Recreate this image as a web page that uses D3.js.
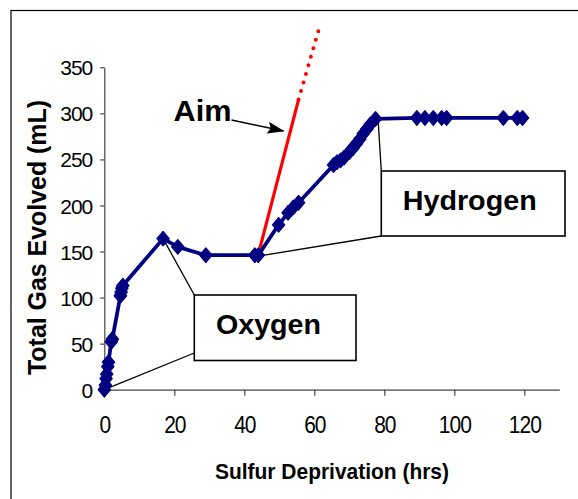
<!DOCTYPE html>
<html>
<head>
<meta charset="utf-8">
<script src="https://cdn.jsdelivr.net/npm/d3@7"></script>
<style>
  html, body { margin: 0; padding: 0; background: #fff; }
  svg { display: block; }
  text { font-family: "Liberation Sans", Arial, sans-serif; }
</style>
</head>
<body>
<svg id="chart" width="578" height="499"></svg>
<script>
// ---- data ----
const hours = [0, 0.3, 0.5, 0.7, 1, 1.2, 2, 2.3, 4.6, 4.8, 5, 5.3, 16.8, 21, 29, 43, 44,
               49.8, 52.5, 54, 55.5, 65.5, 66.5, 67.5, 68.5, 70, 71, 72, 73, 74, 75, 76, 77.5,
               89.3, 91.6, 94, 96.4, 97.8, 114, 118, 119.5];
const gasML = [0, 5, 12, 17, 25, 30, 52, 55, 102, 106, 110, 113, 164, 155, 146, 146, 146,
               179, 192, 198, 203, 244, 247, 249, 252, 258, 262, 267, 272, 278, 283, 288, 294,
               295, 295, 295, 295, 295, 295, 295, 295];
const aimHours = [44, 55.5];
const aimML = [147, 315];
const aimExtHours = [55.5, 61.5];
const aimExtML = [315, 394];
const xTicks = [0, 20, 40, 60, 80, 100, 120];
const yTicks = [0, 50, 100, 150, 200, 250, 300, 350];
const xTitle = "Sulfur Deprivation (hrs)";
const yTitle = "Total Gas Evolved (mL)";
const labels = { aim: "Aim", oxygen: "Oxygen", hydrogen: "Hydrogen" };

// ---- layout ----
const svg = d3.select("#chart");
const x = d3.scaleLinear().domain([0, 130]).range([104.3, 559.3]);
const y = d3.scaleLinear().domain([0, 350]).range([389.7, 67.3]);
const navy = "#000080";

// outer border
svg.append("rect").attr("x", 11).attr("y", 10.5).attr("width", 620).attr("height", 620)
  .attr("fill", "#fff").attr("stroke", "#000").attr("stroke-width", 1.2);

// axes
const xAxis = svg.append("g").attr("transform", `translate(0,${y(0)})`)
  .call(d3.axisBottom(x).tickValues(xTicks).tickSize(6).tickSizeOuter(0));
xAxis.select(".domain").attr("stroke", "#444").attr("stroke-width", 1.2);
xAxis.selectAll(".tick line").attr("stroke", "#444").attr("stroke-width", 1.2);
xAxis.selectAll(".tick text")
  .attr("y", 0).attr("dy", 0)
  .attr("transform", "translate(0,43.5) scale(1,1.18)")
  .attr("font-family", "Liberation Sans, Arial, sans-serif")
  .attr("font-size", 21).attr("letter-spacing", -1)
  .attr("fill", "#000");

const yAxis = svg.append("g").attr("transform", `translate(${x(0)},0)`)
  .call(d3.axisLeft(y).tickValues(yTicks).tickSize(4).tickSizeOuter(0));
yAxis.select(".domain").attr("stroke", "#444").attr("stroke-width", 1.2);
yAxis.selectAll(".tick line").attr("stroke", "#444").attr("stroke-width", 1.2);
yAxis.selectAll(".tick text")
  .attr("x", -12).attr("dy", "0.36em")
  .attr("font-family", "Liberation Sans, Arial, sans-serif")
  .attr("font-size", 21).attr("letter-spacing", -1)
  .attr("fill", "#000");

// axis titles
svg.append("text").attr("x", 215).attr("y", 479)
  .attr("font-size", 22).attr("font-weight", "bold")
  .attr("textLength", 234).attr("lengthAdjust", "spacingAndGlyphs")
  .text(xTitle);
svg.append("text")
  .attr("transform", "translate(46,375) rotate(-90)")
  .attr("font-size", 25).attr("font-weight", "bold")
  .attr("textLength", 275).attr("lengthAdjust", "spacingAndGlyphs")
  .text(yTitle);

// callout lines
const callout = svg.append("g").attr("stroke", "#000").attr("stroke-width", 1.3).attr("fill", "none");
const oxBox = { x: 194.3, y: 295, w: 161.7, h: 65.5 };
const hyBox = { x: 381.3, y: 171, w: 183.7, h: 65 };
callout.append("line").attr("x1", oxBox.x).attr("y1", oxBox.y).attr("x2", x(hours[12])).attr("y2", y(gasML[12]));
callout.append("line").attr("x1", oxBox.x).attr("y1", 353).attr("x2", x(0)).attr("y2", y(0));
callout.append("line").attr("x1", hyBox.x).attr("y1", hyBox.y).attr("x2", x(78.2)).attr("y2", y(295));
callout.append("line").attr("x1", hyBox.x).attr("y1", hyBox.y + hyBox.h).attr("x2", x(44)).attr("y2", y(145));

// aim line (solid + dotted)
const line = d3.line().x(d => x(d[0])).y(d => y(d[1]));
svg.append("path").datum(d3.zip(aimHours, aimML)).attr("d", line)
  .attr("fill", "none").attr("stroke", "#ff0000").attr("stroke-width", 3.2);
svg.append("path").datum(d3.zip(aimExtHours, aimExtML)).attr("d", line)
  .attr("fill", "none").attr("stroke", "#ff0000").attr("stroke-width", 4)
  .attr("stroke-linecap", "round").attr("stroke-dasharray", "0 8.9");

// data series
const pts = d3.zip(hours, gasML);
svg.append("path").datum(pts).attr("d", line)
  .attr("fill", "none").attr("stroke", navy).attr("stroke-width", 3.8).attr("stroke-linejoin", "round");
svg.append("g").selectAll("path").data(pts).join("path")
  .attr("transform", d => `translate(${x(d[0])},${y(d[1])})`)
  .attr("d", "M0,-7.3L6.2,0L0,7.3L-6.2,0Z")
  .attr("fill", navy).attr("stroke", navy).attr("stroke-width", 1.2).attr("stroke-linejoin", "round");

// boxes
[oxBox, hyBox].forEach(b => {
  svg.append("rect").attr("x", b.x).attr("y", b.y).attr("width", b.w).attr("height", b.h)
    .attr("fill", "#fff").attr("stroke", "#000").attr("stroke-width", 1.6);
});
svg.append("text").attr("x", 216).attr("y", 333.5)
  .attr("font-size", 27).attr("font-weight", "bold")
  .attr("textLength", 105).attr("lengthAdjust", "spacingAndGlyphs")
  .text(labels.oxygen);
svg.append("text").attr("x", 402.7).attr("y", 209.5)
  .attr("font-size", 27).attr("font-weight", "bold")
  .attr("textLength", 134).attr("lengthAdjust", "spacingAndGlyphs")
  .text(labels.hydrogen);

// Aim label + arrow
svg.append("text").attr("x", 173.5).attr("y", 120.5)
  .attr("font-size", 29).attr("font-weight", "bold")
  .attr("textLength", 58).attr("lengthAdjust", "spacingAndGlyphs")
  .text(labels.aim);
svg.append("defs").append("marker")
  .attr("id", "arrow").attr("markerUnits", "userSpaceOnUse")
  .attr("markerWidth", 17).attr("markerHeight", 12)
  .attr("refX", 16).attr("refY", 6).attr("orient", "auto")
  .append("path").attr("d", "M0,0L17,6L0,12L3,6Z").attr("fill", "#000");
svg.append("line").attr("x1", 231.5).attr("y1", 120).attr("x2", 283.5).attr("y2", 131)
  .attr("stroke", "#000").attr("stroke-width", 1.5).attr("marker-end", "url(#arrow)");
</script>
</body>
</html>
